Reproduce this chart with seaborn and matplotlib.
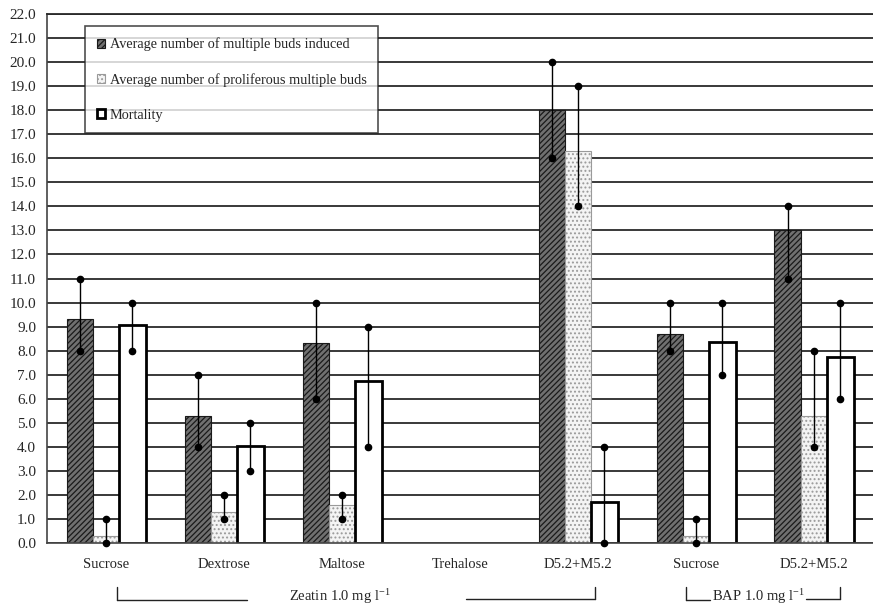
import numpy as np
import pandas as pd
import matplotlib
matplotlib.use("Agg")
import matplotlib.pyplot as plt
from matplotlib.patches import Patch
from matplotlib.lines import Line2D
import matplotlib.transforms as mtransforms
import seaborn as sns

# ---------------- data ----------------
cat_keys = ["Z-Sucrose", "Z-Dextrose", "Z-Maltose", "Z-Trehalose", "Z-D5.2+M5.2", "B-Sucrose", "B-D5.2+M5.2"]
cat_labels = ["Sucrose", "Dextrose", "Maltose", "Trehalose", "D5.2+M5.2", "Sucrose", "D5.2+M5.2"]
series = ["Average number of multiple buds induced",
          "Average number of proliferous multiple buds",
          "Mortality"]

induced_mean = [9.3, 5.3, 8.3, np.nan, 18.0, 8.7, 13.0]
induced_min = [8, 4, 6, np.nan, 16, 8, 11]
induced_max = [11, 7, 10, np.nan, 20, 10, 14]

prolif_mean = [0.3, 1.3, 1.6, np.nan, 16.3, 0.3, 5.3]
prolif_min = [0, 1, 1, np.nan, 14, 0, 4]
prolif_max = [1, 2, 2, np.nan, 19, 1, 8]

mort_mean = [9.05, 4.05, 6.75, np.nan, 1.7, 8.35, 7.75]
mort_min = [8, 3, 4, np.nan, 0, 7, 6]
mort_max = [10, 5, 9, np.nan, 4, 10, 10]

means = [induced_mean, prolif_mean, mort_mean]
mins = [induced_min, prolif_min, mort_min]
maxs = [induced_max, prolif_max, mort_max]

yticks = np.arange(0, 23, 1)

rows = []
for s, m in zip(series, means):
    for k, v in zip(cat_keys, m):
        rows.append({"cat": k, "series": s, "value": v})
df = pd.DataFrame(rows)

# ---------------- style ----------------
sns.set_theme(style="white")
plt.rcParams["font.family"] = ["Liberation Serif", "DejaVu Serif"]
plt.rcParams["mathtext.fontset"] = "custom"
plt.rcParams["mathtext.rm"] = "Liberation Serif"
plt.rcParams["mathtext.default"] = "regular"
plt.rcParams["hatch.linewidth"] = 0.9

fig = plt.figure(figsize=(8.73, 6.07), dpi=100)
ax = fig.add_axes([0.054, 0.1054, 0.946, 0.8715])

sns.barplot(data=df, x="cat", y="value", hue="series", order=cat_keys,
            hue_order=series, errorbar=None, width=0.67, ax=ax,
            palette=["#777777", "#f2f2f2", "white"], legend=False)

styles = [
    dict(facecolor="#707070", edgecolor="#1a1a1a", hatch="//////", linewidth=0.8),
    dict(facecolor="#f4f4f4", edgecolor="#9a9a9a", hatch="....", linewidth=0.8),
    dict(facecolor="white", edgecolor="black", hatch=None, linewidth=2.0),
]

for i, cont in enumerate(ax.containers):
    for bar in cont:
        bar.set_facecolor(styles[i]["facecolor"])
        bar.set_edgecolor(styles[i]["edgecolor"])
        bar.set_hatch(styles[i]["hatch"])
        bar.set_linewidth(styles[i]["linewidth"])
        h = bar.get_height()
        if h is None or np.isnan(h):
            continue
        xc = bar.get_x() + bar.get_width() / 2
        ci = int(round(xc))
        lo, hi = mins[i][ci], maxs[i][ci]
        if np.isnan(lo):
            continue
        ax.plot([xc, xc], [lo, hi], color="black", lw=1.0, marker="o",
                ms=4.5, zorder=5, clip_on=False)

# axes formatting
ax.set_xlim(-0.5, 6.5)
ax.set_ylim(0, 22)
ax.set_yticks(yticks)
ax.set_yticklabels([f"{v:.1f}" for v in yticks], fontsize=11)
ax.set_xticks(range(len(cat_keys)))
ax.set_xticklabels(cat_labels, fontsize=10.5)
ax.set_xticks(np.arange(0.5, 6.0, 1.0), minor=True)
ax.tick_params(axis="x", which="major", length=0, pad=11)
ax.tick_params(axis="x", which="minor", length=3, direction="in", color="#555")
ax.tick_params(axis="y", length=0, pad=8)
ax.set_xlabel("")
ax.set_ylabel("")
ax.yaxis.grid(True, color="#2a2a2a", lw=1.3)
ax.set_axisbelow(True)
ax.spines["right"].set_visible(False)
ax.spines["top"].set_color("#2a2a2a")
ax.spines["top"].set_linewidth(1.3)
ax.spines["left"].set_color("#444")
ax.spines["left"].set_linewidth(1.2)
ax.spines["bottom"].set_color("#444")
ax.spines["bottom"].set_linewidth(1.2)

# legend
handles = [Patch(**styles[0]), Patch(**styles[1]),
           Patch(facecolor="white", edgecolor="black", linewidth=2.0)]
leg = ax.legend(handles, series, loc="upper left", bbox_to_anchor=(0.046, 0.977),
                borderaxespad=0, fontsize=10.25, frameon=True, fancybox=False,
                edgecolor="#222", handlelength=0.6, handleheight=0.6,
                handletextpad=0.35, labelspacing=1.53, borderpad=0.8)
leg.get_frame().set_linewidth(1.2)

# group brackets below the axis (x in data units, y in figure fraction)
trans = mtransforms.blended_transform_factory(ax.transData, fig.transFigure)
def fy(px):
    return 1 - px / 607.0

def seg(x0, y0, x1, y1):
    fig.add_artist(Line2D([x0, x1], [fy(y0), fy(y1)], transform=trans,
                          color="#222", lw=1.0))

seg(0.093, 587, 0.093, 600)
seg(0.093, 600, 1.195, 600)
seg(3.05, 599, 4.14, 599)
seg(4.14, 599, 4.14, 587)
fig.text(1.98, fy(597), "Zeatin 1.0 mg l$^{-1}$", transform=trans,
         ha="center", va="center", fontsize=10.5)

seg(4.915, 587, 4.915, 600)
seg(4.915, 600, 5.12, 600)
seg(5.93, 599, 6.22, 599)
seg(6.22, 599, 6.22, 587)
fig.text(5.53, fy(597), "BAP 1.0 mg l$^{-1}$", transform=trans,
         ha="center", va="center", fontsize=10.5)

fig.savefig("out.png", dpi=100)
